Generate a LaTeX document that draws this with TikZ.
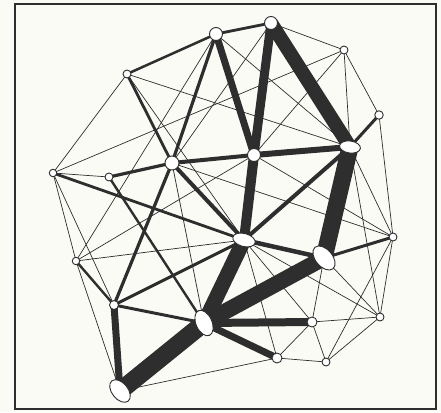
\documentclass[tikz,border=0pt]{standalone}
\usetikzlibrary{shapes.geometric}
\definecolor{ink}{HTML}{2E2E2E}
\definecolor{bgc}{HTML}{FBFBF6}
\pgfdeclarelayer{bgl}
\pgfdeclarelayer{edges}
\pgfsetlayers{bgl,edges,main}
\begin{document}
\begin{tikzpicture}[x=1pt,y=-1pt,
  thinln/.style={draw=ink, line width=0.7pt},
  medln/.style={draw=ink, line width=#1},
  band/.style={draw=ink, line width=#1, line cap=butt},
  circ/.style={circle, draw=ink, fill=white, line width=0.9pt, inner sep=0pt, minimum size=#1},
  ell/.style n args={3}{ellipse, draw=ink, fill=white, line width=0.9pt, inner sep=0pt, minimum width=#1, minimum height=#2, rotate=#3}]
\useasboundingbox (0,0) rectangle (441,412);
% nodes
\node[circ=13pt] (A) at (216,34) {};
\node[circ=13pt] (B) at (271,23) {};
\node[circ=8pt] (C) at (344,50) {};
\node[circ=8.5pt] (D) at (379,115) {};
\node[ell={21pt}{12pt}{-8}] (E) at (350,147) {};
\node[circ=13pt] (F) at (254,155) {};
\node[circ=14pt] (G) at (172,163) {};
\node[circ=8pt] (H) at (127,74) {};
\node[circ=7.5pt] (I) at (53,173) {};
\node[circ=8pt] (J) at (109,177) {};
\node[circ=7.5pt] (K) at (76,261) {};
\node[circ=9pt] (L) at (114,305) {};
\node[ell={26pt}{16pt}{129}] (M) at (120,391) {};
\node[ell={27pt}{16pt}{114}] (N) at (204,323) {};
\node[ell={23pt}{13pt}{-15}] (O) at (244,240) {};
\node[ell={28pt}{17pt}{130}] (P) at (324,258) {};
\node[circ=8pt] (Q) at (393,237) {};
\node[circ=8pt] (R) at (380,317) {};
\node[circ=10pt] (S) at (312,322) {};
\node[circ=10pt] (T) at (277,358) {};
\node[circ=8pt] (U) at (326,362) {};
\begin{pgfonlayer}{bgl}
  \fill[bgc] (0,0) rectangle (441,412);
  \draw[ink, line width=1.3pt] (15,4) rectangle (436,409);
\end{pgfonlayer}
\begin{pgfonlayer}{edges}
  % thin links
  \foreach \a/\b in {B/C,C/D,D/Q,Q/R,R/U,U/T,T/M,K/M,I/K,H/I,
     C/E,C/I,C/F,B/G,A/E,H/E,H/O,A/K,I/J,I/L,K/O,F/K,F/Q,G/Q,E/Q,E/R,
     Q/U,R/S,O/R,O/S,O/T,P/S,P/R,S/T,S/U,G/N}
    \draw[thinln] (\a.center) -- (\b.center);
  % medium links
  \foreach \a/\b/\w in {E/O/4,O/P/4.5,G/F/4,G/O/4,A/G/3.2,G/L/3.2,H/G/2.8,
     A/H/2.5,A/B/2.8,J/G/3.2,I/O/2.8,D/E/3,P/Q/3,L/N/3,L/O/3,J/N/2.4,K/L/2.4}
    \draw[medln=\w pt] (\a.center) -- (\b.center);
  % heavy flows
  \foreach \a/\b/\w in {B/E/14,E/P/17,P/N/16,O/N/15,N/M/18,B/F/9,A/F/7,
     F/O/10,E/F/6,N/S/8,N/T/7,L/M/7}
    \draw[band=\w pt] (\a.center) -- (\b.center);
\end{pgfonlayer}
\end{tikzpicture}
\end{document}
